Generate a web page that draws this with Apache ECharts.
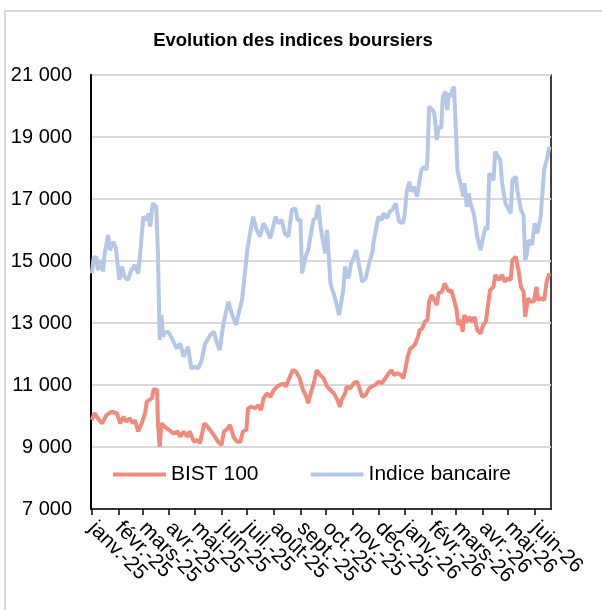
<!DOCTYPE html>
<html>
<head>
<meta charset="utf-8">
<script src="https://cdn.jsdelivr.net/npm/echarts@6/dist/echarts.min.js"></script>
<style>
  html, body { margin: 0; padding: 0; background: #fff; }
  #chart { width: 602px; height: 610px; }
</style>
</head>
<body>
<div id="chart"></div>
<script>
// month names used for the tick labels
const monthNames = ['janv.', 'févr.', 'mars', 'avr.', 'mai', 'juin', 'juil.', 'août', 'sept.', 'oct.', 'nov.', 'déc.'];
// one spare day at each end, so that ECharts' min/max label check drops those and keeps every month
const firstDay = '2024-12-31';
const lastDay = '2026-06-20';
const yTicks = [7000, 21000, 2000]; // min, max, step

const bistDates = [
  '2025-01-01','2025-01-04','2025-01-08','2025-01-13','2025-01-18','2025-01-24','2025-01-30',
  '2025-02-03','2025-02-07','2025-02-10','2025-02-14','2025-02-18','2025-02-20','2025-02-24','2025-02-28',
  '2025-03-04','2025-03-06','2025-03-09','2025-03-12','2025-03-14','2025-03-18','2025-03-19','2025-03-21','2025-03-23','2025-03-27',
  '2025-04-01','2025-04-06','2025-04-11','2025-04-14','2025-04-18','2025-04-22','2025-04-25','2025-04-30',
  '2025-05-04','2025-05-07','2025-05-12','2025-05-16','2025-05-20','2025-05-23','2025-05-28',
  '2025-06-01','2025-06-04','2025-06-08','2025-06-11','2025-06-15','2025-06-19','2025-06-23','2025-06-26','2025-06-30',
  '2025-07-02','2025-07-06','2025-07-10','2025-07-14','2025-07-17','2025-07-20','2025-07-24','2025-07-28',
  '2025-08-01','2025-08-05','2025-08-08','2025-08-12','2025-08-15','2025-08-19','2025-08-23','2025-08-27','2025-08-31',
  '2025-09-04','2025-09-08','2025-09-10','2025-09-13','2025-09-17','2025-09-20','2025-09-24','2025-09-28',
  '2025-10-02','2025-10-06','2025-10-10','2025-10-14','2025-10-17','2025-10-19','2025-10-23','2025-10-25','2025-10-29',
  '2025-11-02','2025-11-06','2025-11-09','2025-11-12','2025-11-16','2025-11-20','2025-11-23','2025-11-27',
  '2025-12-01','2025-12-05','2025-12-09','2025-12-13','2025-12-16','2025-12-19','2025-12-23','2025-12-27','2025-12-30',
  '2026-01-01','2026-01-04','2026-01-07','2026-01-10','2026-01-13','2026-01-16','2026-01-18','2026-01-21','2026-01-24','2026-01-27','2026-01-29',
  '2026-02-01','2026-02-03','2026-02-07','2026-02-09','2026-02-11','2026-02-13','2026-02-16','2026-02-18','2026-02-21','2026-02-24','2026-02-27',
  '2026-03-02','2026-03-04','2026-03-07','2026-03-09','2026-03-11','2026-03-14','2026-03-17','2026-03-20','2026-03-23','2026-03-26','2026-03-30',
  '2026-04-02','2026-04-05','2026-04-07','2026-04-10','2026-04-14','2026-04-16','2026-04-20','2026-04-24','2026-04-27','2026-04-30',
  '2026-05-04','2026-05-06','2026-05-10','2026-05-13','2026-05-16','2026-05-19','2026-05-21','2026-05-24','2026-05-27','2026-05-31',
  '2026-06-03','2026-06-05','2026-06-08','2026-06-12','2026-06-15','2026-06-18'
];
const bistValues = [
  9870, 10090, 9920, 9760, 10030, 10140, 10090,
  9760, 9980, 9820, 9920, 9760, 9870, 9500, 9760,
  10090, 10460, 10520, 10570, 10860, 10840, 9760, 9010, 9760, 9650,
  9550, 9440, 9500, 9330, 9500, 9330, 9500, 9170,
  9230, 9120, 9760, 9650, 9500, 9390, 9170,
  9060, 9500, 9600, 9710, 9330, 9170, 9170, 9500, 9550,
  10250, 10300, 10250, 10350, 10190, 10570, 10730, 10620,
  10840, 10950, 11000, 11050, 10950, 11220, 11480, 11430, 11220,
  10840, 10620, 10410, 10730, 11110, 11480, 11320, 11220,
  10950, 10840, 10730, 10520, 10300, 10520, 10730, 10950, 10890,
  11050, 11110, 10890, 10620, 10680, 10890, 10950, 11000,
  11110, 11050, 11220, 11380, 11480, 11320, 11380, 11320, 11220,
  11480, 11910, 12180, 12230, 12340, 12560, 12770, 12830, 13040, 13100, 13690,
  13900, 13850, 13580, 13960, 13900, 14010, 14280, 14330, 14010, 14060, 13740,
  13420, 12940, 13100, 12720, 13260, 13040, 13200, 13040, 13200, 12770, 12660,
  12940, 13040, 13100, 14060, 14170, 14550, 14390, 14550, 14330, 14440,
  14390, 15030, 15140, 14710, 14170, 14010, 13200, 13800, 13690, 13690,
  14170, 13740, 13800, 13740, 14330, 14600
];

const bankDates = [
  '2025-01-01','2025-01-03','2025-01-06','2025-01-08','2025-01-12','2025-01-14','2025-01-16','2025-01-20','2025-01-22','2025-01-26','2025-01-29',
  '2025-02-02','2025-02-05','2025-02-08','2025-02-12','2025-02-16','2025-02-20','2025-02-24','2025-02-26',
  '2025-03-02','2025-03-06','2025-03-08','2025-03-10','2025-03-13','2025-03-17','2025-03-19','2025-03-21','2025-03-23','2025-03-25','2025-03-27','2025-03-31',
  '2025-04-04','2025-04-10','2025-04-14','2025-04-18','2025-04-23','2025-04-27',
  '2025-05-01','2025-05-05','2025-05-09','2025-05-13','2025-05-19','2025-05-23','2025-05-27','2025-05-30',
  '2025-06-03','2025-06-09','2025-06-13','2025-06-18','2025-06-21','2025-06-25','2025-06-27','2025-06-30',
  '2025-07-01','2025-07-04','2025-07-08','2025-07-12','2025-07-16','2025-07-20','2025-07-24','2025-07-28',
  '2025-08-03','2025-08-06','2025-08-10','2025-08-14','2025-08-18','2025-08-22','2025-08-26','2025-08-29',
  '2025-09-01','2025-09-03','2025-09-07','2025-09-10','2025-09-16','2025-09-19','2025-09-22','2025-09-24','2025-09-27','2025-09-30',
  '2025-10-02','2025-10-04','2025-10-06','2025-10-12','2025-10-16','2025-10-18','2025-10-21','2025-10-23','2025-10-27','2025-10-30',
  '2025-11-02','2025-11-05','2025-11-08','2025-11-12','2025-11-16','2025-11-20','2025-11-24','2025-11-25','2025-11-29',
  '2025-12-01','2025-12-05','2025-12-07','2025-12-11','2025-12-14','2025-12-17','2025-12-21','2025-12-23','2025-12-25','2025-12-29','2025-12-31',
  '2026-01-03','2026-01-06','2026-01-08','2026-01-11','2026-01-15','2026-01-17','2026-01-20','2026-01-23','2026-01-26','2026-01-27','2026-01-29',
  '2026-02-02','2026-02-04','2026-02-07','2026-02-09','2026-02-12','2026-02-14','2026-02-17','2026-02-19','2026-02-21','2026-02-23','2026-02-25','2026-02-27',
  '2026-03-01','2026-03-03','2026-03-05','2026-03-07','2026-03-10','2026-03-11','2026-03-14','2026-03-16','2026-03-18','2026-03-22','2026-03-26','2026-03-30',
  '2026-04-02','2026-04-05','2026-04-07','2026-04-09','2026-04-11','2026-04-14','2026-04-16','2026-04-19','2026-04-22','2026-04-24','2026-04-28',
  '2026-05-02','2026-05-04','2026-05-06','2026-05-10','2026-05-12','2026-05-16','2026-05-19','2026-05-21','2026-05-23','2026-05-25','2026-05-29',
  '2026-06-01','2026-06-04','2026-06-08','2026-06-12','2026-06-16','2026-06-18'
];
const bankValues = [
  14600, 15090, 15140, 14710, 15030, 14660, 15250, 15840, 15350, 15620, 15420,
  14390, 14820, 14490, 14390, 14710, 14870, 14600, 15140,
  16430, 16320, 16540, 16110, 16860, 16750, 15250, 12450, 13260, 12560, 12680, 12720,
  12510, 12180, 12340, 11910, 12230, 11530,
  11590, 11530, 11810, 12340, 12610, 12720, 12340, 12130,
  12940, 13690, 13310, 12940, 13310, 13740, 14280, 15030,
  15350, 15840, 16430, 16000, 15790, 16220, 16000, 15730,
  16430, 16220, 16320, 15890, 15790, 16650, 16700, 16320,
  16320, 14600, 15140, 15350, 16320, 16390, 16810, 16220, 15680, 15250,
  16000, 15140, 14280, 13740, 13260, 13260, 14060, 14820, 14440, 14920,
  15090, 15350, 14920, 14330, 14440, 14920, 15300, 15570, 16160,
  16430, 16320, 16540, 16380, 16590, 16650, 16860, 16920, 16270, 16220, 16380,
  17240, 17560, 17240, 17400, 17080, 17450, 17940, 18040, 17940, 18260, 19980,
  19870, 19760, 18900, 19330, 19280, 20300, 20460, 19870, 20410, 20300, 20520, 20620,
  19330, 17940, 17670, 17720, 17080, 17510, 16750, 17180, 16860, 16540, 15790, 15350,
  15790, 16110, 16000, 17830, 17770, 17610, 18530, 18370, 18260, 17510, 16860,
  16650, 16540, 17610, 17720, 17240, 16650, 16490, 15030, 15250, 15680, 15520,
  16220, 15890, 16430, 17940, 18370, 18690
];

// one category per calendar day, like an Excel date axis
const days = [];
for (let t = Date.parse(firstDay); t <= Date.parse(lastDay); t += 86400000) {
  days.push(new Date(t).toISOString().slice(0, 10));
}

function isMonthStart(value) {
  return value.slice(8) === '01';
}

// month starts, plus the two spare end days (hidden again by showMin/MaxLabel: false)
function showTick(index, value) {
  return isMonthStart(value) || index === 0 || index === days.length - 1;
}

function monthLabel(value) {
  if (!isMonthStart(value)) {
    return '';
  }
  const m = parseInt(value.slice(5, 7), 10);
  return monthNames[m - 1] + '-' + value.slice(2, 4);
}

function pairs(dates, values) {
  return dates.map(function (d, i) { return [d, values[i]]; });
}

const font = 'Liberation Sans, Arial, sans-serif';
const chart = echarts.init(document.getElementById('chart'));

chart.setOption({
  animation: false,
  backgroundColor: '#fff',
  graphic: [{
    type: 'rect',
    shape: { x: 5, y: 11, width: 700, height: 700 },
    style: { fill: 'none', stroke: '#d9d9d9', lineWidth: 2 },
    silent: true,
    z: -1
  }],
  title: {
    text: 'Evolution des indices boursiers',
    left: 293,
    textAlign: 'center',
    top: 31,
    padding: 0,
    textStyle: { fontFamily: font, fontSize: 18.5, fontWeight: 'bold', color: '#000' }
  },
  legend: {
    left: 113,
    top: 464,
    padding: 0,
    icon: 'rect',
    itemWidth: 53,
    itemHeight: 4,
    itemGap: 52,
    textStyle: { fontFamily: font, fontSize: 21, color: '#000' },
    data: ['BIST 100', 'Indice bancaire']
  },
  grid: {
    left: 91,
    right: 51,
    top: 75,
    bottom: 101,
    show: true,
    borderColor: '#000',
    borderWidth: 1.5,
    outerBoundsMode: 'none'
  },
  xAxis: {
    type: 'category',
    data: days,
    boundaryGap: false,
    axisLine: { lineStyle: { color: '#000', width: 1.5 } },
    axisTick: { show: true, interval: showTick, length: 6, lineStyle: { color: '#000', width: 1.5 } },
    axisLabel: {
      interval: showTick,
      formatter: monthLabel,
      rotate: -45,
      margin: 16,
      hideOverlap: false,
      showMinLabel: false,
      showMaxLabel: false,
      fontFamily: font,
      fontSize: 21,
      color: '#000'
    },
    splitLine: { show: false }
  },
  yAxis: {
    type: 'value',
    min: yTicks[0],
    max: yTicks[1],
    interval: yTicks[2],
    axisLine: { show: true, lineStyle: { color: '#000', width: 2 } },
    axisTick: { show: false },
    axisLabel: {
      margin: 19,
      fontFamily: font,
      fontSize: 20,
      color: '#000',
      formatter: function (v) {
        return String(v).replace(/\B(?=(\d{3})+(?!\d))/g, ' ');
      }
    },
    splitLine: { lineStyle: { color: '#d9d9d9', width: 2 } }
  },
  series: [{
    name: 'BIST 100',
    type: 'line',
    data: pairs(bistDates, bistValues),
    showSymbol: false,
    symbol: 'none',
    color: '#f1897c',
    lineStyle: { width: 4, color: '#f1897c' }
  }, {
    name: 'Indice bancaire',
    type: 'line',
    data: pairs(bankDates, bankValues),
    showSymbol: false,
    symbol: 'none',
    color: '#b4c7e7',
    lineStyle: { width: 4, color: '#b4c7e7' }
  }]
});
</script>
</body>
</html>
